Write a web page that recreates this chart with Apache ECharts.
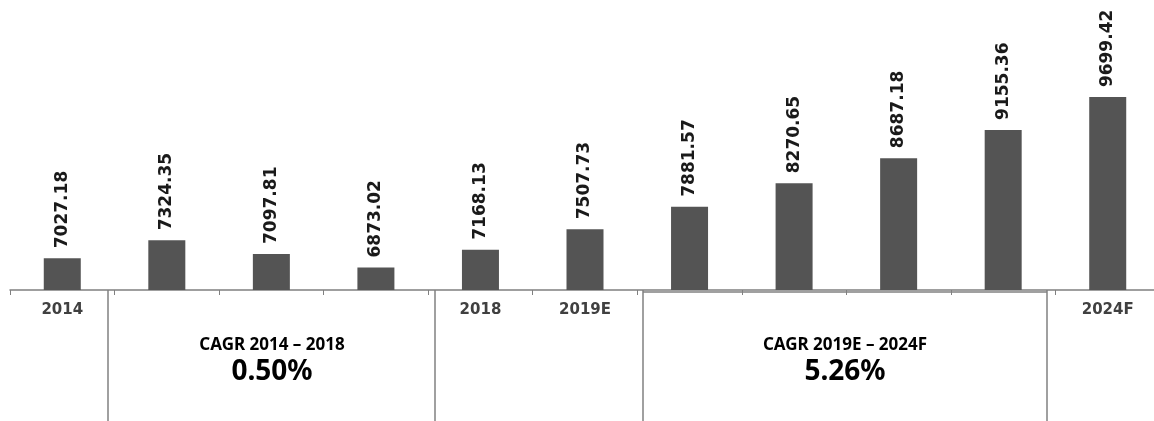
<!DOCTYPE html>
<html>
<head>
<meta charset="utf-8">
<script src="https://cdn.jsdelivr.net/npm/echarts@6/dist/echarts.min.js"></script>
<style>
    html, body { margin: 0; padding: 0; background: #fff; }
    #chart { width: 1154px; height: 421px; }
</style>
</head>
<body>
<div id="chart"></div>
<script>
var years = ['2014', '2015', '2016', '2017', '2018', '2019E', '2020F', '2021F', '2022F', '2023F', '2024F'];
var values = [7027.18, 7324.35, 7097.81, 6873.02, 7168.13, 7507.73, 7881.57, 8270.65, 8687.18, 9155.36, 9699.42];
var shownYears = ['2014', '2018', '2019E', '2024F'];   // 축 아래 표시되는 연도
var cagrTitles = ['CAGR 2014 \u2013 2018', 'CAGR 2019E \u2013 2024F'];
var cagrValues = ['0.50%', '5.26%'];

var chart = echarts.init(document.getElementById('chart'));

function vline(x) {
    return {
        type: 'line',
        shape: { x1: x, y1: 290, x2: x, y2: 421 },
        style: { stroke: '#808080', lineWidth: 1.5 }
    };
}

function boxText(cx, i) {
    return [{
        type: 'text',
        x: cx, y: 345,
        style: {
            text: cagrTitles[i], fill: '#000', align: 'center', verticalAlign: 'middle',
            font: 'bold 17px "Noto Sans"'
        }
    }, {
        type: 'text',
        x: cx, y: 372,
        style: {
            text: cagrValues[i], fill: '#000', align: 'center', verticalAlign: 'middle',
            font: 'bold 28px "Noto Sans"'
        }
    }];
}

var option = {
    animation: false,
    grid: { left: 10, top: 79, width: 1150, height: 211, outerBoundsMode: 'none', containLabel: false },
    xAxis: {
        type: 'category',
        data: years,
        axisLine: { lineStyle: { color: '#808080', width: 1.5 } },
        axisTick: { show: true, length: 5, lineStyle: { color: '#808080' } },
        axisLabel: {
            interval: 0,
            margin: 13,
            color: '#404040',
            fontFamily: 'DejaVu Sans',
            fontWeight: 'bold',
            fontSize: 15,
            formatter: function (v) {
                return shownYears.indexOf(v) >= 0 ? v : '';
            }
        }
    },
    yAxis: {
        type: 'value',
        min: 6500,
        max: 10000,
        show: false
    },
    series: [{
        type: 'bar',
        data: values,
        barWidth: 37,
        itemStyle: { color: '#545454' },
        label: {
            show: true,
            position: 'top',
            rotate: 90,
            align: 'left',
            verticalAlign: 'middle',
            distance: 10,
            color: '#1a1a1a',
            fontFamily: 'DejaVu Sans',
            fontWeight: 'bold',
            fontSize: 17,
            formatter: function (p) { return p.value.toFixed(2); }
        }
    }],
    graphic: [
        vline(108), vline(435), vline(643), vline(1047),
        {
            type: 'line',
            shape: { x1: 643, y1: 292, x2: 1047, y2: 292 },
            style: { stroke: '#808080', lineWidth: 1.5 }
        }
    ].concat(boxText(272, 0), boxText(845, 1))
};

chart.setOption(option);
</script>
</body>
</html>
